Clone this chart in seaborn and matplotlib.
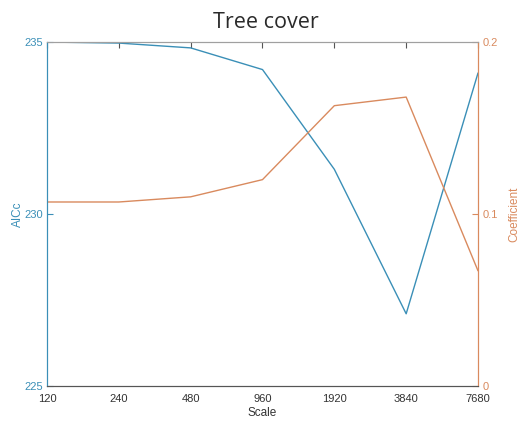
import matplotlib
matplotlib.use("Agg")
import matplotlib.pyplot as plt
import seaborn as sns
import pandas as pd

sns.set_theme(style="white")
plt.rcParams["font.family"] = ["Liberation Sans", "DejaVu Sans"]

# Data
scales = [120, 240, 480, 960, 1920, 3840, 7680]
aicc = [235.0, 234.97, 234.83, 234.2, 231.3, 227.1, 234.1]
coefficient = [0.107, 0.107, 0.110, 0.120, 0.163, 0.168, 0.067]
scale_labels = ["120", "240", "480", "960", "1920", "3840", "7680"]

blue = "#3a8fb7"
orange = "#d98a5e"
gray = "#555555"

df = pd.DataFrame({"Scale": scales, "AICc": aicc, "Coefficient": coefficient})

fig = plt.figure(figsize=(5.31, 4.29), dpi=100)
ax = fig.add_axes([0.0885, 0.1002, 0.8117, 0.8018])
ax2 = ax.twinx()

sns.lineplot(data=df, x="Scale", y="AICc", ax=ax, color=blue, linewidth=1.0)
sns.lineplot(data=df, x="Scale", y="Coefficient", ax=ax2, color=orange, linewidth=1.0)

for a in (ax, ax2):
    a.set_xscale("log", base=2)
    a.set_xlim(scales[0], scales[-1])
    a.grid(False)

ax.set_xticks(scales)
ax.set_xticklabels(scale_labels)
ax.xaxis.set_minor_locator(matplotlib.ticker.NullLocator())
ax.set_ylim(225, 235)
ax.set_yticks([225, 230, 235])
ax2.set_ylim(0, 0.2)
ax2.set_yticks([0, 0.1, 0.2])
ax2.set_yticklabels(["0", "0.1", "0.2"])

ax.tick_params(axis="x", direction="in", length=4, width=0.8, colors=gray,
               labelsize=8, pad=6, top=True, labeltop=False)
ax.tick_params(axis="y", direction="in", length=4, width=0.8, colors=blue,
               labelsize=8, pad=3)
ax2.tick_params(axis="y", direction="in", length=4, width=0.8, colors=orange,
                labelsize=8, pad=3)
for lbl in ax.get_xticklabels():
    lbl.set_color("#333333")

ax.set_xlabel("Scale", fontsize=8.5, color="#333333", labelpad=2)
ax.set_ylabel("AICc", fontsize=8.5, color=blue, labelpad=0)
ax2.set_ylabel("Coefficient", fontsize=8.5, color=orange, labelpad=8)

for a in (ax, ax2):
    a.spines["left"].set_color(blue)
    a.spines["right"].set_color(orange)
    a.spines["bottom"].set_color(gray)
    a.spines["top"].set_color("#a0a0a0")
    for s in a.spines.values():
        s.set_linewidth(0.8)

fig.text(0.5, 0.948, "Tree cover", ha="center", va="center", fontsize=15.5,
         fontweight="normal", color="#2a2a2a", family=["Open Sans", "DejaVu Sans"])

fig.savefig("out.png", dpi=100, facecolor="white")
